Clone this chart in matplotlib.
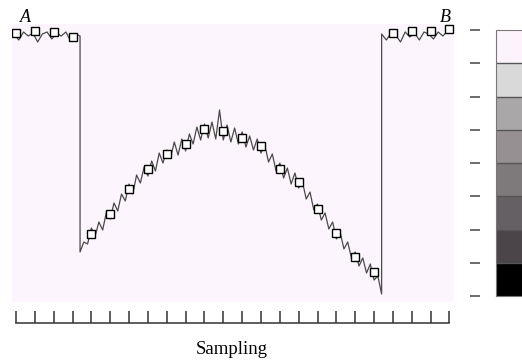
import matplotlib
matplotlib.use("Agg")
import matplotlib.pyplot as plt
import numpy as np
from matplotlib.colors import ListedColormap, BoundaryNorm
from matplotlib.cm import ScalarMappable

# sampled marker values (one per sampling position)
marker_vals = [269, 271, 270, 265,
               68, 88, 113, 133, 148, 158, 173, 171, 164, 156, 133, 120, 93, 69, 45, 30,
               269, 271, 271, 273]

# noisy signal, three pieces: plateau A, valley, plateau B
plateau_a = [268, 262, 270, 266, 269, 260, 268, 270, 263, 269, 266, 270, 261, 268, 266]
valley = [50, 60, 58, 74, 66, 80, 72, 90, 83, 99, 91, 108, 101, 118, 108, 127, 119, 135,
          126, 141, 131, 149, 139, 152, 144, 160, 147, 163, 151, 168, 158, 175, 162, 178,
          164, 180, 163, 192, 162, 177, 160, 174, 158, 170, 155, 166, 152, 163, 149, 157,
          140, 148, 131, 139, 124, 134, 118, 129, 114, 120, 103, 110, 92, 98, 82, 89, 73,
          80, 63, 70, 53, 60, 44, 50, 36, 44, 29, 38, 22, 26, 8]
plateau_b = [268, 262, 269, 267, 260, 270, 265, 269, 262, 270, 268, 263, 270, 266, 271, 272]

# colour bar levels, bottom to top
bar_colors = ['#000000', '#4b4448', '#656063', '#7e797b', '#969092', '#a9a7a8', '#d9d9d9', '#fdf3fd']
bar_levels = np.arange(len(bar_colors) + 1)

x_a = -0.1 + 0.25 * np.arange(len(plateau_a))
x_v = 3.4 + 0.2 * np.arange(len(valley))
x_b = 19.4 + 0.25 * np.arange(len(plateau_b))
line_x = np.concatenate([x_a, x_v, x_b])
line_y = np.concatenate([plateau_a, valley, plateau_b])
marker_x = np.arange(len(marker_vals))

W, H = 522, 361
fig = plt.figure(figsize=(W / 100, H / 100), dpi=100)
serif = ['Liberation Serif', 'DejaVu Serif']

# main signal panel
ax = fig.add_axes([12 / W, 1 - 302 / H, 442 / W, 278 / H])
ax.set_facecolor('#fdf5fd')
ax.plot(line_x, line_y, color='#4a4a4a', lw=0.9)
ax.plot(marker_x, marker_vals, ls='none', marker='s', ms=5.2,
        mfc='white', mec='black', mew=1.0)
ax.set_xlim(-0.21, 23.24)
ax.set_ylim(0, 278)
for s in ax.spines.values():
    s.set_visible(False)
ax.set_xticks([])
ax.set_yticks([])

# sampling ruler underneath
ax2 = fig.add_axes([12 / W, 1 - 323 / H, 442 / W, 0.03])
ax2.set_xlim(-0.21, 23.24)
ax2.patch.set_visible(False)
for k in ['top', 'left', 'right']:
    ax2.spines[k].set_visible(False)
ax2.spines['bottom'].set_bounds(marker_x[0], marker_x[-1])
ax2.spines['bottom'].set_color('#333333')
ax2.spines['bottom'].set_linewidth(1.1)
ax2.set_yticks([])
ax2.set_xticks(marker_x)
ax2.set_xticklabels([])
ax2.tick_params(axis='x', direction='in', length=9, width=1.1, color='#333333')

fig.text(232 / W, 1 - 350 / H, 'Sampling', ha='center', va='center',
         family=serif, fontsize=13.5)
fig.text(25 / W, 1 - 17 / H, 'A', ha='center', va='center', family=serif,
         style='italic', fontsize=13)
fig.text(445 / W, 1 - 17 / H, 'B', ha='center', va='center', family=serif,
         style='italic', fontsize=13)

# colour bar, cut at the right edge
cax = fig.add_axes([496 / W, 1 - 296 / H, 40 / W, 266 / H])
sm = ScalarMappable(norm=BoundaryNorm(bar_levels, len(bar_colors)),
                    cmap=ListedColormap(bar_colors))
cb = fig.colorbar(sm, cax=cax, drawedges=True)
cb.outline.set_edgecolor('#777777')
cb.dividers.set_color('#555555')
cb.dividers.set_linewidth(1.0)
cax.set_yticks([])

# detached tick marks left of the bar
tax = fig.add_axes([480 / W, 1 - 296 / H, 0.0001, 266 / H])
tax.set_ylim(bar_levels[0], bar_levels[-1])
for s in tax.spines.values():
    s.set_visible(False)
tax.set_xticks([])
tax.set_yticks(bar_levels)
tax.set_yticklabels([])
tax.tick_params(axis='y', direction='out', length=7.5, width=1.1, color='#444444')

fig.savefig('out.png', dpi=100)
